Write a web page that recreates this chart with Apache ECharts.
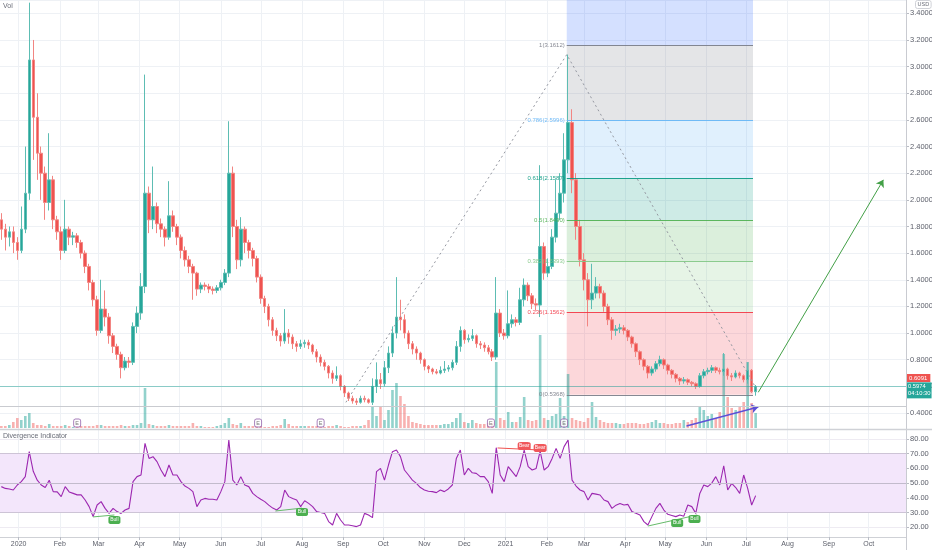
<!DOCTYPE html>
<html><head><meta charset="utf-8">
<script src="https://cdn.jsdelivr.net/npm/echarts@6/dist/echarts.min.js"></script>
<style>html,body{margin:0;padding:0;background:#fff}#c{width:932px;height:550px}</style>
</head><body><div id="c"></div>
<script>
// ---------- data ----------
const axisStart = '2019-12-18';
const axisDays = 682;
const candleStart = '2019-12-19';
const candleStepDays = 3;
const monthAbbr = ['Jan','Feb','Mar','Apr','May','Jun','Jul','Aug','Sep','Oct','Nov','Dec'];
const priceTicks = {min: 0.4, max: 3.5, interval: 0.2};
const divTicks = {min: 20, max: 80, interval: 10};

// [open, close, low, high]
const ohlc = [
[1.85,1.78,1.70,1.90],[1.78,1.72,1.62,1.82],[1.72,1.76,1.65,1.80],[1.76,1.68,1.60,1.80],[1.68,1.62,1.55,1.72],
[1.62,1.78,1.60,1.95],[1.78,2.05,1.75,2.40],[2.05,3.05,2.00,3.48],[3.05,2.62,2.30,3.20],[2.62,2.35,2.15,2.80],
[2.35,2.20,2.00,2.40],[2.20,1.98,1.85,2.25],[1.98,2.15,1.92,2.50],[2.15,1.85,1.78,2.18],[1.85,1.76,1.70,1.88],
[1.76,1.62,1.55,1.80],[1.62,1.78,1.60,2.00],[1.78,1.72,1.66,1.80],[1.72,1.73,1.66,1.76],[1.73,1.68,1.64,1.75],
[1.68,1.60,1.56,1.70],[1.60,1.50,1.45,1.62],[1.50,1.38,1.32,1.52],[1.38,1.25,1.20,1.40],[1.25,1.02,0.98,1.28],
[1.02,1.18,1.00,1.40],[1.18,1.12,1.05,1.32],[1.12,0.98,0.92,1.15],[0.98,0.90,0.85,1.00],[0.90,0.84,0.80,0.92],
[0.84,0.74,0.66,0.86],[0.74,0.79,0.72,0.82],[0.79,0.78,0.74,0.82],[0.78,1.05,0.76,1.08],[1.05,1.15,1.00,1.20],
[1.15,1.35,1.10,1.45],[1.35,2.05,1.30,2.94],[2.05,1.85,1.75,2.10],[1.85,1.95,1.78,2.25],[1.95,1.82,1.75,1.98],
[1.82,1.78,1.72,1.86],[1.78,1.72,1.65,1.80],[1.72,1.88,1.70,2.14],[1.88,1.80,1.76,1.92],[1.80,1.72,1.66,1.82],
[1.72,1.62,1.56,1.74],[1.62,1.55,1.50,1.65],[1.55,1.50,1.45,1.58],[1.50,1.45,1.25,1.52],[1.45,1.33,1.28,1.46],
[1.33,1.36,1.30,1.38],[1.36,1.35,1.32,1.38],[1.35,1.33,1.30,1.37],[1.33,1.32,1.29,1.35],[1.32,1.34,1.30,1.36],
[1.34,1.38,1.32,1.40],[1.38,1.45,1.36,1.48],[1.45,2.20,1.42,2.59],[2.20,1.80,1.72,2.25],[1.80,1.55,1.48,1.85],
[1.55,1.78,1.50,1.87],[1.78,1.68,1.60,1.80],[1.68,1.62,1.56,1.70],[1.62,1.56,1.50,1.64],[1.56,1.42,1.38,1.58],
[1.42,1.26,1.22,1.44],[1.26,1.20,1.15,1.28],[1.20,1.10,1.05,1.22],[1.10,1.02,0.98,1.12],[1.02,0.98,0.94,1.04],
[0.98,0.94,0.90,1.00],[0.94,1.00,0.92,1.18],[1.00,0.97,0.92,1.03],[0.97,0.92,0.88,0.99],[0.92,0.90,0.86,0.94],
[0.90,0.92,0.88,0.95],[0.92,0.93,0.89,0.95],[0.93,0.91,0.88,0.95],[0.91,0.86,0.84,0.92],[0.86,0.82,0.78,0.88],
[0.82,0.78,0.75,0.84],[0.78,0.75,0.72,0.80],[0.75,0.70,0.66,0.76],[0.70,0.66,0.62,0.72],[0.66,0.68,0.64,0.75],
[0.68,0.60,0.57,0.69],[0.60,0.55,0.52,0.61],[0.55,0.51,0.49,0.56],[0.51,0.49,0.47,0.53],[0.49,0.48,0.46,0.51],
[0.48,0.51,0.47,0.53],[0.51,0.50,0.48,0.53],[0.50,0.48,0.47,0.51],[0.48,0.60,0.46,0.66],[0.60,0.65,0.55,0.78],
[0.65,0.62,0.58,0.70],[0.62,0.74,0.60,0.79],[0.74,0.85,0.70,0.90],[0.85,1.00,0.82,1.05],[1.00,1.12,0.96,1.42],
[1.12,1.10,1.02,1.25],[1.10,1.00,0.96,1.14],[1.00,0.92,0.88,1.02],[0.92,0.88,0.84,0.94],[0.88,0.85,0.80,0.90],
[0.85,0.80,0.77,0.86],[0.80,0.75,0.72,0.81],[0.75,0.73,0.70,0.76],[0.73,0.71,0.69,0.74],[0.71,0.70,0.69,0.73],
[0.70,0.72,0.69,0.75],[0.72,0.73,0.70,0.79],[0.73,0.74,0.71,0.76],[0.74,0.78,0.72,0.80],[0.78,0.90,0.76,0.94],
[0.90,1.02,0.86,1.05],[1.02,0.95,0.92,1.03],[0.95,0.96,0.93,0.99],[0.96,0.98,0.94,1.03],[0.98,0.92,0.89,0.99],
[0.92,0.91,0.88,0.94],[0.91,0.89,0.86,0.93],[0.89,0.86,0.84,0.91],[0.86,0.82,0.79,0.88],[0.82,1.15,0.80,1.42],
[1.15,1.00,0.97,1.18],[1.00,0.98,0.95,1.03],[0.98,1.07,0.96,1.32],[1.07,1.10,1.04,1.14],[1.10,1.08,1.05,1.12],
[1.08,1.25,1.06,1.34],[1.25,1.36,1.20,1.41],[1.36,1.28,1.24,1.38],[1.28,1.22,1.18,1.30],[1.22,1.21,1.17,1.26],
[1.21,1.65,1.12,2.26],[1.65,1.45,1.40,1.68],[1.45,1.50,1.42,1.56],[1.50,1.72,1.48,1.78],[1.72,1.90,1.68,2.15],
[1.90,2.05,1.85,2.20],[2.05,2.30,1.98,2.50],[2.30,2.58,2.20,3.09],[2.58,2.15,2.05,2.68],[2.15,1.80,1.70,2.20],
[1.80,1.55,1.50,1.85],[1.55,1.40,1.32,1.60],[1.40,1.25,1.05,1.45],[1.25,1.30,1.18,1.52],[1.30,1.35,1.26,1.42],
[1.35,1.30,1.26,1.37],[1.30,1.20,1.16,1.32],[1.20,1.10,1.06,1.22],[1.10,1.02,0.95,1.12],[1.02,1.03,0.98,1.06],
[1.03,1.04,1.00,1.07],[1.04,1.02,0.99,1.06],[1.02,0.97,0.94,1.03],[0.97,0.92,0.89,0.98],[0.92,0.86,0.82,0.93],
[0.86,0.80,0.76,0.87],[0.80,0.75,0.72,0.81],[0.75,0.70,0.66,0.76],[0.70,0.73,0.68,0.75],[0.73,0.77,0.71,0.79],
[0.77,0.80,0.75,0.83],[0.80,0.76,0.73,0.81],[0.76,0.72,0.69,0.77],[0.72,0.69,0.66,0.73],[0.69,0.66,0.63,0.70],
[0.66,0.64,0.61,0.67],[0.64,0.65,0.62,0.67],[0.65,0.63,0.61,0.66],[0.63,0.62,0.60,0.64],[0.62,0.60,0.58,0.63],
[0.60,0.68,0.59,0.70],[0.68,0.71,0.66,0.73],[0.71,0.72,0.69,0.74],[0.72,0.74,0.70,0.76],[0.74,0.72,0.70,0.75],
[0.72,0.71,0.69,0.74],[0.71,0.73,0.68,0.85],[0.73,0.68,0.65,0.74],[0.68,0.67,0.64,0.70],[0.67,0.70,0.66,0.72],
[0.70,0.68,0.66,0.71],[0.68,0.65,0.63,0.69],[0.65,0.72,0.62,0.78],[0.72,0.56,0.55,0.73],[0.56,0.5974,0.53,0.61]
];

const volume = [
2,2,3,6,10,8,12,15,5,3, 3,2,4,2,2,2,3,2,1,1, 2,2,2,2,3,3,2,2,2,2, 3,2,2,3,3,5,40,4,3,2,
2,2,3,2,2,2,2,2,5,2, 2,1,1,1,2,3,5,10,4,3, 5,2,2,2,2,2,1,1,2,2, 3,9,4,2,2,2,2,2,2,2,
1,1,2,2,3,2,1,1,2,2, 2,3,8,21,12,21,8,18,38,45, 32,24,12,6,5,4,3,3,3,3, 3,4,4,6,10,15,6,5,8,5,
4,4,5,5,66,10,8,16,6,6, 11,31,8,7,8,93,10,8,12,14, 30,12,54,10,8,7,6,10,26,11, 8,6,5,5,5,4,4,5,5,5,
4,4,5,6,8,5,5,4,4,5, 5,8,6,8,10,21,18,12,14,10, 16,74,31,20,18,22,26,66,25,15
];

const divergence = [
47.6,46.4,46,45.3,48.7,51,54.4,71.4,58,52, 48.7,47,52,44.2,44,40.8,47.6,44,43,42,
42,38.5,34,27.2,35.1,37.4,32.8,29.4,32.8,30.6, 29.4,31.7,32.8,51,54.4,55.5,77,66.8,68,64.6,
58.9,54.4,62.3,55.5,55.5,51,48,46.4,44.2,34, 38.5,39.6,39,39,38.5,44.2,51,79.3,52,48.7,
54.4,48.7,47.6,43,40.8,39,37.4,35,33,31.7, 34,45.3,40.8,39.5,38.5,34,38,36.2,34,30.6,
30,29.4,23.8,21.5,29.4,24.9,21.5,21.5,21,20.4, 21.5,29.4,28.3,26.5,57.8,60,52,62.3,71.4,72.5,
68,58.9,55.5,52,49.8,47,45.3,44.5,44.2,43.5, 45.3,44.2,46,48.7,66.8,72.5,55.5,60,57,56.6,
54.4,54.4,51,43,74.1,55.5,51,61.2,57.8,54.4, 61.2,72.5,61.2,58.9,60,71.8,58.9,61.2,66.8,73.6,
66.8,74.8,79.3,52,48,45.3,44.2,38.5,43,42.5, 41.9,38.5,37.4,32.8,35,36.2,35.1,35.5,30.6,29.5,
28.3,23.8,21.5,27.2,32.8,36.2,31.7,28.8,28,27.2, 28.3,27.5,35.1,34,29.4,43,48.7,47.6,50,54.4,
48.7,61.8,45.3,49.8,47,43,55.5,46.4,35.1,41.5
];

const lastPrice = 0.5974, lastTime = '04:10:30', otherTag = 0.6091, lowLine = 0.4534;
const fibStart = '2021-02-16', fibEnd = '2021-07-06', fibHigh = 3.1612, fibLow = 0.5368;
const fibLevels = [0, 0.236, 0.382, 0.5, 0.618, 0.786, 1];
const fibColors = ['#787b86', '#f23645', '#81c784', '#4caf50', '#089981', '#64b5f6', '#787b86'];
const fibTopColor = '#2962ff';
const trendPath = [['2020-09-03', 0.48], ['2021-02-16', 3.09], ['2021-07-10', 0.556]];
const projection = [['2021-07-10', 0.556], ['2021-10-12', 2.15]];
const volumeTrend = [['2021-05-17', 2], ['2021-07-10', 21]];
const earningsDates = ['2020-02-14', '2020-06-29', '2020-08-15', '2020-12-21', '2021-02-14'];
const earningsLevel = 5;
const bullSignals = [['2020-03-13', 24.9], ['2020-08-01', 30.3], ['2021-05-10', 22.9], ['2021-05-23', 25.6]];
const bearSignals = [['2021-01-15', 75.2], ['2021-01-27', 73.9]];
const bullLines = [[['2020-02-26', 27], ['2020-03-13', 28.3]], [['2020-07-12', 31], ['2020-08-01', 33]], [['2021-04-18', 20.8], ['2021-05-25', 28.3]]];
const bearLines = [[['2020-12-26', 73.9], ['2021-01-27', 72.5]]];

// ---------- helpers ----------
const DAY = 86400000;
function utc(s) { const p = s.split('-').map(Number); return Date.UTC(p[0], p[1] - 1, p[2]); }
const t0 = utc(axisStart);
const dates = [];
for (let k = 0; k < axisDays; k++) dates.push(new Date(t0 + k * DAY).toISOString().slice(0, 10));
const idx = s => Math.round((utc(s) - t0) / DAY);
function rgba(hex, a) { const n = parseInt(hex.slice(1), 16); return `rgba(${n >> 16},${(n >> 8) & 255},${n & 255},${a})`; }
const isMonthStart = (i, v) => v.slice(8) === '01';
const monthLabel = v => v.slice(5, 7) === '01' ? v.slice(0, 4) : monthAbbr[+v.slice(5, 7) - 1];

const UP = '#26a69a', DOWN = '#ef5350';
const c0 = idx(candleStart);
const candleData = dates.map(() => ['-', '-', '-', '-']);
const volData = [], divData = [];
ohlc.forEach((r, i) => {
  const k = c0 + i * candleStepDays;
  candleData[k] = r;
  volData.push({value: [k, volume[i]], itemStyle: {color: r[1] >= r[0] ? rgba(UP, 0.5) : rgba(DOWN, 0.45)}});
  divData.push([k, divergence[i]]);
});

const fibPrice = l => fibLow + l * (fibHigh - fibLow);
const ks = idx(fibStart), ke = idx(fibEnd);
const fibAreas = [];
for (let j = 0; j < fibLevels.length - 1; j++) {
  fibAreas.push([{coord: [ks, fibPrice(fibLevels[j])], itemStyle: {color: rgba(fibColors[j + 1], 0.2)}},
                 {coord: [ke, fibPrice(fibLevels[j + 1])]}]);
}
fibAreas.push([{coord: [ks, fibPrice(1)], itemStyle: {color: rgba(fibTopColor, 0.2)}}, {coord: [ke, priceTicks.max]}]);
const fibLines = fibLevels.map((l, j) => [
  {coord: [ks, fibPrice(l)], lineStyle: {color: fibColors[j], width: 1, type: 'solid', opacity: 0.9},
   label: {show: true, position: 'start', distance: 2, formatter: `${l}(${fibPrice(l).toFixed(4)})`, color: fibColors[j], fontSize: 6, fontFamily: 'Liberation Sans'}},
  {coord: [ke, fibPrice(l)]}]);

const hiddenX = g => ({type: 'category', gridIndex: g, data: dates, boundaryGap: false,
  axisLine: {show: false}, axisTick: {show: false}, axisLabel: {show: false}, splitLine: {show: false}});

const lbl = {fontSize: 7.5, color: '#5d606b', fontFamily: 'Liberation Sans'};

const option = {
  animation: false,
  backgroundColor: '#ffffff',
  grid: [
    {left: 0, right: 26, top: 0, height: 413, outerBoundsMode: 'none'},
    {left: 0, right: 26, top: 328, height: 100, outerBoundsMode: 'none'},
    {left: 0, right: 26, top: 439, height: 88.2, outerBoundsMode: 'none'},
    {left: 0, right: 26, top: 0, height: 537, outerBoundsMode: 'none'}
  ],
  xAxis: [hiddenX(0), hiddenX(1), hiddenX(2), {
    type: 'category', gridIndex: 3, data: dates, boundaryGap: false,
    axisLine: {show: true, lineStyle: {color: '#cfd1d6'}},
    axisTick: {show: true, interval: isMonthStart, length: 3, lineStyle: {color: '#b9bcc4'}},
    axisLabel: {show: true, interval: isMonthStart, formatter: monthLabel, margin: 4, fontSize: 7, color: '#5d606b', fontFamily: 'Liberation Sans'},
    splitLine: {show: true, interval: isMonthStart, lineStyle: {color: '#eef1f5', width: 1}}
  }],
  yAxis: [
    {type: 'value', gridIndex: 0, position: 'right', min: priceTicks.min, max: priceTicks.max, interval: priceTicks.interval,
     axisLine: {show: false}, axisTick: {show: true, length: 3, lineStyle: {color: '#b9bcc4'}},
     axisLabel: Object.assign({formatter: v => v.toFixed(4), margin: 4, showMaxLabel: false}, lbl),
     splitLine: {show: true, lineStyle: {color: '#eef1f5'}}},
    {type: 'value', gridIndex: 1, min: 0, max: 100, show: false},
    {type: 'value', gridIndex: 2, position: 'right', min: divTicks.min, max: divTicks.max, interval: divTicks.interval,
     axisLine: {show: false}, axisTick: {show: true, length: 3, lineStyle: {color: '#b9bcc4'}},
     axisLabel: Object.assign({formatter: v => v.toFixed(2), margin: 4}, lbl),
     splitLine: {show: true, lineStyle: {color: '#eeebf2'}}},
    {type: 'value', gridIndex: 3, show: false}
  ],
  series: [
    { // fibonacci retracement
      type: 'line', xAxisIndex: 0, yAxisIndex: 0, z: 1, symbol: 'none', silent: true,
      data: [[ks, fibLow]], lineStyle: {opacity: 0},
      markArea: {silent: true, data: fibAreas},
      markLine: {silent: true, symbol: 'none', data: fibLines}
    },
    { // volume
      type: 'bar', xAxisIndex: 1, yAxisIndex: 1, z: 2, barWidth: 2.6, silent: true, large: false, data: volData,
      markLine: {silent: true, symbol: ['none', 'arrow'], symbolSize: 7, label: {show: false},
        lineStyle: {color: '#5c4fd6', width: 1.3, type: 'solid'},
        data: [[{coord: [idx(volumeTrend[0][0]), volumeTrend[0][1]]}, {coord: [idx(volumeTrend[1][0]), volumeTrend[1][1]]}]]}
    },
    { // earnings markers
      type: 'scatter', xAxisIndex: 1, yAxisIndex: 1, z: 4, symbol: 'roundRect', symbolSize: [7, 8], silent: true,
      itemStyle: {color: '#ffffff', borderColor: '#8e5aa8', borderWidth: 1},
      label: {show: true, position: 'inside', formatter: 'E', fontSize: 5.5, color: '#555', fontFamily: 'Liberation Sans'},
      data: earningsDates.map(d => [idx(d), earningsLevel])
    },
    { // candles
      type: 'candlestick', xAxisIndex: 0, yAxisIndex: 0, z: 3, large: false, largeThreshold: 100000,
      barWidth: 3, barMinWidth: 3, barMaxWidth: 3, silent: true,
      itemStyle: {color: UP, color0: DOWN, borderColor: '#5dbdb3', borderColor0: '#f28582', borderWidth: 1},
      data: candleData,
      markLine: {silent: true, symbol: 'none', data: [
        {yAxis: lowLine, lineStyle: {color: '#c9cbd0', width: 1, type: 'solid'}, label: {show: false}},
        {yAxis: otherTag, lineStyle: {color: 'rgba(0,0,0,0)', width: 0}, label: {show: true, position: 'end', distance: 1, offset: [0, -7],
          formatter: otherTag.toFixed(4), backgroundColor: '#ef5350', color: '#fff', fontSize: 6, padding: [1, 3, 1, 2], fontFamily: 'Liberation Sans'}},
        {yAxis: lastPrice, lineStyle: {color: rgba(UP, 0.5), width: 1, type: 'solid'}, label: {show: true, position: 'end', distance: 1, offset: [0, 4],
          formatter: lastPrice.toFixed(4) + '\n' + lastTime, backgroundColor: UP, color: '#fff', fontSize: 5.8, lineHeight: 7, padding: [1, 1, 1, 1], fontFamily: 'Liberation Sans'}}
      ]}
    },
    { // dotted swing lines + projection arrow
      type: 'line', xAxisIndex: 0, yAxisIndex: 0, z: 4, symbol: 'none', silent: true,
      data: trendPath.map(p => [idx(p[0]), p[1]]),
      lineStyle: {color: '#9598a1', width: 1, type: [2, 3]},
      markLine: {silent: true, symbol: ['none', 'arrow'], symbolSize: 7, label: {show: false},
        lineStyle: {color: '#43a047', width: 1, type: 'solid'},
        data: [[{coord: [idx(projection[0][0]), projection[0][1]]}, {coord: [idx(projection[1][0]), projection[1][1]]}]]}
    },
    { // divergence indicator
      type: 'line', xAxisIndex: 2, yAxisIndex: 2, z: 3, symbol: 'none', silent: true, data: divData,
      lineStyle: {color: '#9c27b0', width: 1.1},
      markArea: {silent: true, data: [[{yAxis: 30, itemStyle: {color: '#f3e6fb', opacity: 1}}, {yAxis: 70}]]},
      markLine: {silent: true, symbol: 'none', label: {show: false}, data: [
        {yAxis: 70, lineStyle: {color: '#cdc4d6', width: 1, type: 'solid'}},
        {yAxis: 50, lineStyle: {color: '#c2bbcc', width: 1, type: 'solid'}},
        {yAxis: 30, lineStyle: {color: '#cdc4d6', width: 1, type: 'solid'}},
        ...bullLines.map(l => [{coord: [idx(l[0][0]), l[0][1]], lineStyle: {color: '#66bb6a', width: 1, type: 'solid'}}, {coord: [idx(l[1][0]), l[1][1]]}]),
        ...bearLines.map(l => [{coord: [idx(l[0][0]), l[0][1]], lineStyle: {color: '#ef5350', width: 1, type: 'solid'}}, {coord: [idx(l[1][0]), l[1][1]]}])
      ]},
      markPoint: {silent: true, data: [
        ...bullSignals.map(s => ({coord: [idx(s[0]), s[1]], symbol: 'roundRect', symbolSize: [12, 8], itemStyle: {color: '#4caf50'},
          label: {show: true, position: 'inside', formatter: 'Bull', color: '#fff', fontSize: 5, fontFamily: 'Liberation Sans'}})),
        ...bearSignals.map(s => ({coord: [idx(s[0]), s[1]], symbol: 'roundRect', symbolSize: [13, 8], itemStyle: {color: '#f0575a'},
          label: {show: true, position: 'inside', formatter: 'Bear', color: '#fff', fontSize: 5, fontFamily: 'Liberation Sans'}}))
      ]}
    }
  ],
  graphic: [
    {type: 'line', silent: true, z: 100, shape: {x1: 906.5, y1: 0, x2: 906.5, y2: 550}, style: {stroke: '#c9cbd1', lineWidth: 1}},
    {type: 'line', silent: true, z: 100, shape: {x1: 0, y1: 429.5, x2: 932, y2: 429.5}, style: {stroke: '#cfd1d6', lineWidth: 1.5}},
    {type: 'text', silent: true, z: 100, left: 3, top: 3, style: {text: 'Vol', fontSize: 7, fill: '#6a6d78', fontFamily: 'Liberation Sans'}},
    {type: 'text', silent: true, z: 100, left: 3, top: 433, style: {text: 'Divergence Indicator', fontSize: 7, fill: '#6a6d78', fontFamily: 'Liberation Sans'}},
    {type: 'text', silent: true, z: 100, left: 915, top: 0, style: {text: 'USD', fontSize: 5.5, fill: '#6a6d78', fontFamily: 'Liberation Sans', borderColor: '#d0d2d8', borderWidth: 1, borderRadius: 2, padding: [1, 2]}}
  ]
};

const chart = echarts.init(document.getElementById('c'), null, {renderer: 'canvas'});
chart.setOption(option);
</script>
</body></html>
